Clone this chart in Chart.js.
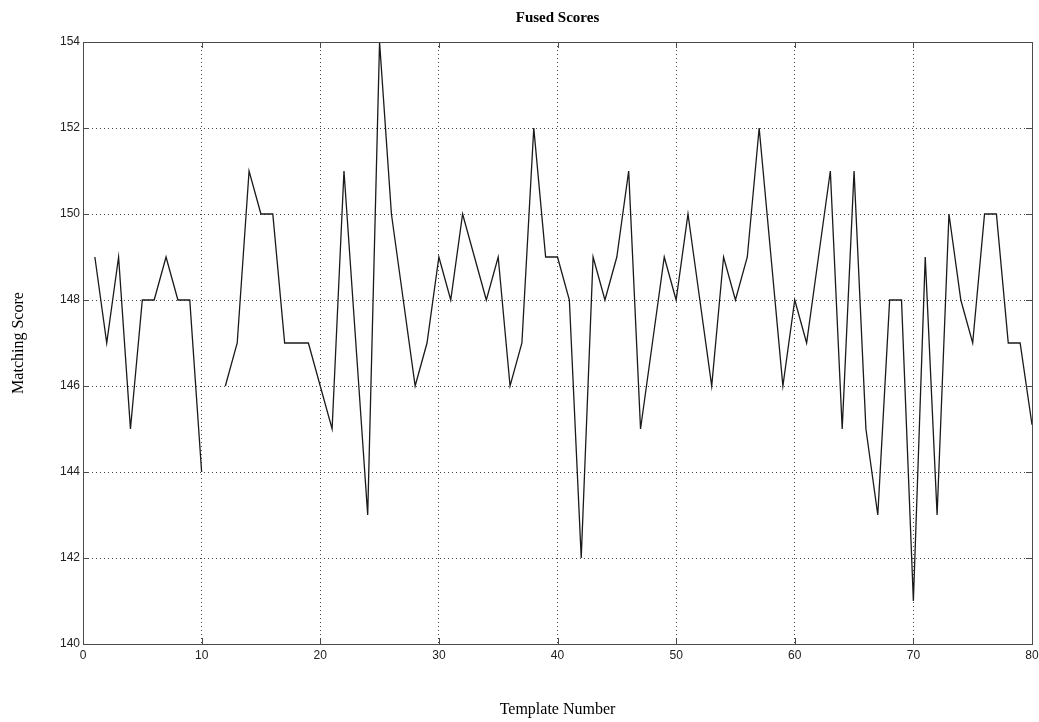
<!DOCTYPE html>
<html>
<head>
<meta charset="utf-8">
<script src="https://cdn.jsdelivr.net/npm/chart.js@4/dist/chart.umd.min.js"></script>
<style>
  html, body { margin: 0; padding: 0; background: #fff; }
  #wrap { width: 1039px; height: 722px; }
</style>
</head>
<body>
<div id="wrap"><canvas id="c" width="1039" height="722"></canvas></div>
<script>
const templateNumbers = [1,2,3,4,5,6,7,8,9,10,11,12,13,14,15,16,17,18,19,20,
  21,22,23,24,25,26,27,28,29,30,31,32,33,34,35,36,37,38,39,40,
  41,42,43,44,45,46,47,48,49,50,51,52,53,54,55,56,57,58,59,60,
  61,62,63,64,65,66,67,68,69,70,71,72,73,74,75,76,77,78,79,80];
const fusedScores = [149,147,149,145,148,148,149,148,148,144,
  null,146,147,151,150,150,147,147,147,146,
  145,151,147,143,154,150,148,146,147,149,
  148,150,149,148,149,146,147,152,149,149,
  148,142,149,148,149,151,145,147,149,148,
  150,148,146,149,148,149,152,149,146,148,
  147,149,151,145,151,145,143,148,148,141,
  149,143,150,148,147,150,150,147,147,145.1];
const xTicks = [0,10,20,30,40,50,60,70,80];
const yTicks = [140,142,144,146,148,150,152,154];

const points = templateNumbers.map((t, i) => ({ x: t, y: fusedScores[i] }));

const boxAndTicks = {
  id: 'boxAndTicks',
  afterDraw(chart) {
    const { ctx, chartArea: a, scales } = chart;
    ctx.save();
    ctx.strokeStyle = '#4a4a4a';
    ctx.lineWidth = 1;
    ctx.beginPath();
    const tl = 6;
    xTicks.forEach(v => {
      const px = Math.round(scales.x.getPixelForValue(v)) + 0.5;
      ctx.moveTo(px, a.bottom); ctx.lineTo(px, a.bottom - tl);
      ctx.moveTo(px, a.top); ctx.lineTo(px, a.top + tl);
    });
    yTicks.forEach(v => {
      const py = Math.round(scales.y.getPixelForValue(v)) + 0.5;
      ctx.moveTo(a.left, py); ctx.lineTo(a.left + tl, py);
      ctx.moveTo(a.right, py); ctx.lineTo(a.right - tl, py);
    });
    ctx.stroke();
    ctx.strokeRect(Math.round(a.left) + 0.5, Math.round(a.top) + 0.5,
      Math.round(a.right - a.left), Math.round(a.bottom - a.top));
    ctx.restore();
  }
};

const tickFont = { family: '"Liberation Sans", Arial, sans-serif', size: 12 };
const serif = '"Liberation Serif", "Times New Roman", serif';

new Chart(document.getElementById('c'), {
  type: 'line',
  data: {
    datasets: [{
      data: points,
      xAxisID: 'x',
      borderColor: '#1a1a1a',
      borderWidth: 1.3,
      pointRadius: 0,
      tension: 0,
      spanGaps: false,
      fill: false
    }]
  },
  options: {
    responsive: false,
    animation: false,
    layout: { padding: { left: 0, right: 7, top: 0, bottom: 0 } },
    plugins: {
      legend: { display: false },
      tooltip: { enabled: false },
      title: { display: false }
    },
    scales: {
      xTop: {
        type: 'linear',
        position: 'top',
        min: 0, max: 80,
        afterFit(scale) { scale.height = 42; scale.paddingLeft = 0; scale.paddingRight = 0; },
        ticks: { display: false },
        grid: { display: false, drawTicks: false },
        border: { display: false },
        title: {
          display: true,
          text: 'Fused Scores',
          color: '#000',
          font: { family: serif, size: 15, weight: 'bold' },
          padding: { top: 9, bottom: 0 }
        }
      },
      x: {
        type: 'linear',
        position: 'bottom',
        min: 0, max: 80,
        afterBuildTicks(scale) { scale.ticks = xTicks.map(v => ({ value: v })); },
        afterFit(scale) { scale.height = 78; scale.paddingLeft = 0; scale.paddingRight = 0; },
        ticks: { color: '#222', font: tickFont, padding: 4, maxRotation: 0, autoSkip: false },
        grid: { color: '#444', lineWidth: 1, drawTicks: false },
        border: { display: true, color: '#4a4a4a', dash: [1, 3] },
        title: {
          display: true,
          text: 'Template Number',
          color: '#000',
          font: { family: serif, size: 16 },
          padding: { top: 0, bottom: 3 }
        }
      },
      y: {
        type: 'linear',
        min: 140, max: 154,
        afterBuildTicks(scale) { scale.ticks = yTicks.map(v => ({ value: v })); },
        afterFit(scale) { scale.width = 83; scale.paddingTop = 0; scale.paddingBottom = 0; },
        ticks: { color: '#222', font: tickFont, padding: 3, autoSkip: false },
        grid: { color: '#444', lineWidth: 1, drawTicks: false },
        border: { display: true, color: '#4a4a4a', dash: [1, 3] },
        title: {
          display: true,
          text: 'Matching Score',
          color: '#000',
          font: { family: serif, size: 16 },
          padding: { top: 9, bottom: 0 }
        }
      }
    }
  },
  plugins: [boxAndTicks]
});
</script>
</body>
</html>
